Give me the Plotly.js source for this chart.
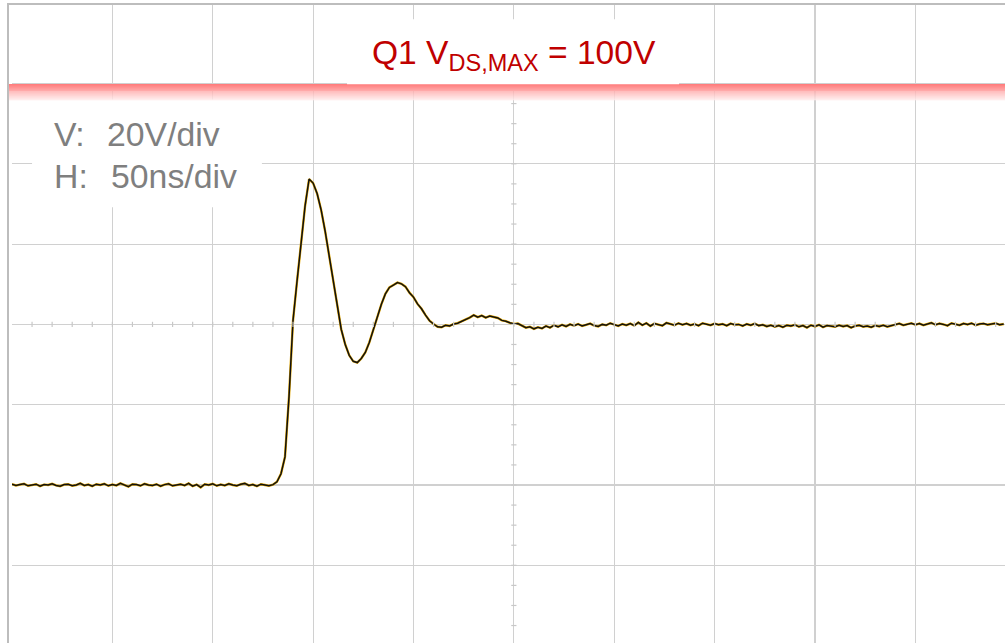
<!DOCTYPE html>
<html>
<head>
<meta charset="utf-8">
<script src="https://cdn.plot.ly/plotly-3.0.1.min.js"></script>
<style>
html,body{margin:0;padding:0;background:#fff;overflow:hidden;}
#chart{width:1005px;height:643px;}
</style>
</head>
<body>
<div id="chart"></div>
<script>
// Sampling: first sample at t = 0 ns, one sample every 2 ns
const sampleStartNs = 0;
const sampleStepNs = 2;

// Q1 drain-source voltage (V), read from the scope capture
const vdsVolts = [
  0.2,-0.1,0.1,0.3,-0.2,0.0,0.2,-0.3,0.1,0.0,
  0.3,-0.1,-0.3,0.1,0.2,-0.2,0.0,0.4,-0.1,0.1,
  -0.3,0.2,0.0,0.3,-0.2,0.1,-0.1,0.4,0.0,-0.4,
  0.2,0.1,-0.2,0.3,0.0,-0.1,0.2,-0.3,0.1,0.3,
  -0.2,0.0,0.2,-0.1,0.4,-0.3,0.1,-0.6,0.2,0.0,
  0.3,-0.2,0.1,-0.1,0.3,0.0,-0.2,0.2,0.4,-0.1,
  0.1,-0.3,0.2,0.0,-0.2,0.1,
  0.8,2.8,7.0,22.0,41.0,50.8,60.0,69.5,76.2,75.2,
  72.6,68.5,63.2,57.0,51.2,44.5,38.8,35.0,32.3,30.8,
  30.5,31.5,33.0,35.5,38.8,42.2,45.0,47.6,49.2,49.8,
  50.4,50.1,49.4,47.9,46.8,45.1,43.9,42.3,40.9,40.1,
  39.4,39.3,39.8,39.6,40.1,40.3,40.7,41.1,41.7,42.3,
  41.8,42.2,41.7,42.1,41.8,41.6,41.0,40.8,40.4,40.1,
  40.2,39.6,39.2,39.4,38.9,39.3,39.0,39.6,39.2,39.8,
  39.4,39.9,39.5,40.0,39.7,40.1,39.6,39.9,40.2,39.7,
  39.5,40.0,39.8,40.3,39.9,39.6,40.1,39.8,40.2,39.7,
  40.5,39.8,40.3,39.6,40.2,40.0,39.7,40.4,40.1,39.8,
  40.3,39.9,40.2,39.8,40.1,39.7,40.3,40.0,39.8,40.2,
  39.9,40.1,39.7,40.2,39.9,40.0,39.6,40.1,39.8,40.2,
  39.7,39.9,39.5,39.8,39.4,39.7,39.3,39.8,39.6,39.9,
  39.4,39.7,39.2,39.8,39.5,39.9,39.3,39.7,39.6,39.4,
  39.8,39.5,39.7,39.2,39.6,39.8,39.4,39.6,39.3,39.7,
  39.5,39.8,39.4,39.7,39.9,40.2,39.8,40.1,40.3,39.9,
  40.2,39.8,40.1,40.4,39.9,40.2,40.0,39.7,40.3,40.1,
  39.8,40.2,40.0,40.3,39.8,40.1,40.2,39.9,40.1,40.3,
  39.9,40.1
];

// Scope settings
const voltsPerDiv = 20;
const nsPerDiv = 50;
const limitVolts = 100;
const titleText = 'Q1 V<sub>DS,MAX</sub> = 100V';
const scaleLabels = ['V:', 'H:'];
const scaleValues = ['20V/div', '50ns/div'];

const xRange = [0.01, 494.65];
const yRange = [-39.35, 119.8];
const gridColor = '#d0d0d0';
const frameColor = '#bdbdbd';
const fontFam = 'Arial, "Liberation Sans", sans-serif';

const shapes = [];
// white box behind scale text
shapes.push({type:'rect', xref:'x', yref:'y', x0:10, x1:124.5, y0:69.2, y1:96.0,
  fillcolor:'#ffffff', line:{width:0}, layer:'above'});

// minor ticks on centre horizontal line (every 1/5 div)
const centreV = 2 * voltsPerDiv;
for (let t = nsPerDiv/5; t < xRange[1]; t += nsPerDiv/5) {
  shapes.push({type:'line', xref:'x', yref:'y', x0:t, x1:t, y0:centreV-0.65, y1:centreV+0.65,
    line:{color:'#c8c8c8', width:1.2}, layer:'above'});
}
// minor ticks on centre vertical line (every 1/4 div)
const centreT = 5 * nsPerDiv;
for (let v = -35; v < yRange[1]; v += voltsPerDiv/4) {
  shapes.push({type:'line', xref:'x', yref:'y', x0:centreT-1.3, x1:centreT+1.3, y0:v, y1:v,
    line:{color:'#c8c8c8', width:1.2}, layer:'above'});
}

// red limit band with vertical gradient
const bandSteps = 16;
const bandDepth = 4;
for (let i = 0; i < bandSteps; i++) {
  const f = i / (bandSteps - 1);
  const g = Math.round(125 + (232 - 125) * f);
  const top = limitVolts - 0.15 - i * bandDepth / bandSteps;
  shapes.push({type:'rect', xref:'paper', yref:'y', x0:-0.00403, x1:1,
    y0: top - bandDepth / bandSteps - 0.02, y1: top,
    fillcolor:'rgb(255,' + g + ',' + g + ')', line:{width:0}, layer:'above'});
}
// white box behind title
shapes.push({type:'rect', xref:'x', yref:'y', x0:166.9, x1:332.3, y0:99.8, y1:116.0,
  fillcolor:'#ffffff', line:{width:0}, layer:'above'});

// frame: left and top border
shapes.push({type:'line', xref:'paper', yref:'paper', x0:-0.00403, x1:-0.00403, y0:0, y1:1,
  line:{color:frameColor, width:2}, layer:'above'});
shapes.push({type:'line', xref:'paper', yref:'paper', x0:-0.00503, x1:1, y0:1, y1:1,
  line:{color:frameColor, width:2}, layer:'above'});

const annotations = [
  {text:titleText, xref:'x', yref:'y', x:250, y:107.2, xanchor:'center', yanchor:'middle',
   showarrow:false, font:{family:fontFam, size:33.6, color:'#c00000'}},
  {text:scaleLabels[0], xref:'x', yref:'y', x:20.0, y:87.5, xanchor:'left', yanchor:'middle',
   showarrow:false, font:{family:fontFam, size:33.8, color:'#7f7f7f'}},
  {text:scaleValues[0], xref:'x', yref:'y', x:46.5, y:87.5, xanchor:'left', yanchor:'middle',
   showarrow:false, font:{family:fontFam, size:33.8, color:'#7f7f7f'}},
  {text:scaleLabels[1], xref:'x', yref:'y', x:20.0, y:77.0, xanchor:'left', yanchor:'middle',
   showarrow:false, font:{family:fontFam, size:33.8, color:'#7f7f7f'}},
  {text:scaleValues[1], xref:'x', yref:'y', x:48.3, y:77.0, xanchor:'left', yanchor:'middle',
   showarrow:false, font:{family:fontFam, size:33.8, color:'#7f7f7f'}}
];

const traces = [
  {type:'scatter', mode:'lines', x0:sampleStartNs, dx:sampleStepNs, y:vdsVolts,
   line:{color:'rgb(228,168,0)', width:2.4}, hoverinfo:'skip'},
  {type:'scatter', mode:'lines', x0:sampleStartNs, dx:sampleStepNs, y:vdsVolts,
   line:{color:'#111111', width:1.5}, hoverinfo:'skip'}
];

const layout = {
  width:1005, height:643,
  margin:{l:12, r:0, t:4, b:0, pad:0},
  paper_bgcolor:'#ffffff', plot_bgcolor:'#ffffff',
  showlegend:false,
  xaxis:{range:xRange, tick0:0, dtick:nsPerDiv, showgrid:true, gridcolor:gridColor, gridwidth:1.2,
    zeroline:false, showticklabels:false, ticks:'', showline:false, fixedrange:true},
  yaxis:{range:yRange, tick0:0, dtick:voltsPerDiv, showgrid:true, gridcolor:gridColor, gridwidth:1.2,
    zeroline:false, showticklabels:false, ticks:'', showline:false, fixedrange:true},
  shapes:shapes,
  annotations:annotations
};

Plotly.newPlot('chart', traces, layout, {staticPlot:true, displayModeBar:false});
</script>
</body>
</html>
